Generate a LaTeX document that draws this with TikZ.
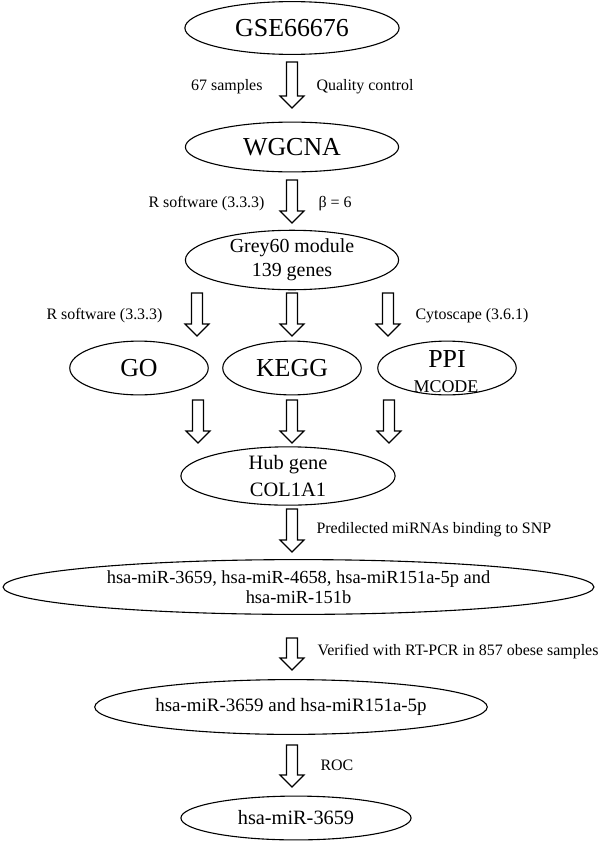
\documentclass[tikz,border=0pt]{standalone}
\usepackage{fontspec}
\setmainfont{Liberation Serif}
\usetikzlibrary{shapes.geometric,calc}

\newcommand{\hollowarrow}[2]{%
\path[harrow] let \p1=(#1), \p2=(#2) in
 (\x1-5.5bp,\y1) -- (\x1+5.5bp,\y1) -- (\x1+5.5bp,\y2+12bp) -- (\x1+12bp,\y2+12bp)
 -- (\x1,\y2) -- (\x1-12bp,\y2+12bp) -- (\x1-5.5bp,\y2+12bp) -- cycle;}

\begin{document}
\begin{tikzpicture}[x=1bp,y=-1bp,
 oval/.style={ellipse,draw,line width=1.1bp,inner sep=0pt,align=center},
 lbl/.style={font=\fontsize{16}{18}\selectfont},
 harrow/.style={draw,line width=1.1bp,line join=miter,fill=white}]
\useasboundingbox (0,0) rectangle (599,843);

\node[oval,minimum width=215,minimum height=53,font=\fontsize{26}{30}\selectfont] (gse) at (292,28) {GSE66676};
\node[oval,minimum width=214,minimum height=50,font=\fontsize{26}{30}\selectfont] (wgcna) at (292,147) {WGCNA};
\node[oval,minimum width=214,minimum height=54,font=\fontsize{20}{24}\selectfont] (grey) at (292,260) {Grey60 module\\139 genes};
\node[oval,minimum width=139,minimum height=54,font=\fontsize{26}{30}\selectfont] (go) at (139,368) {GO};
\node[oval,minimum width=139,minimum height=54,font=\fontsize{26}{30}\selectfont] (kegg) at (292,368) {KEGG};
\node[oval,minimum width=139,minimum height=54] (ppi) at (447,368) {};
\node[anchor=base,font=\fontsize{26}{30}\selectfont] (ppitext) at (447,367) {PPI};
\node[anchor=base,font=\fontsize{18}{20}\selectfont] (mcode) at (446,392) {MCODE};
\node[oval,minimum width=215,minimum height=55,font=\fontsize{20.5}{27}\selectfont] (hub) at (288,476) {Hub gene\\COL1A1};
\node[oval,minimum width=593,minimum height=55,font=\fontsize{18.5}{20}\selectfont] (mirs) at (298.5,587) {hsa-miR-3659, hsa-miR-4658, hsa-miR151a-5p and\\hsa-miR-151b};
\node[oval,minimum width=394,minimum height=55,font=\fontsize{19}{22}\selectfont] (mirtwo) at (291,707) {hsa-miR-3659 and hsa-miR151a-5p};
\node[oval,minimum width=231,minimum height=44,font=\fontsize{20.4}{24}\selectfont] (mirone) at (296,818) {hsa-miR-3659};

% arrow ends
\coordinate (a1) at (292,62);  \coordinate (b1) at (292,108);
\coordinate (a2) at (292,180); \coordinate (b2) at (292,223);
\coordinate (a3) at (197,293); \coordinate (b3) at (197,336);
\coordinate (a4) at (292,293); \coordinate (b4) at (292,336);
\coordinate (a5) at (388,293); \coordinate (b5) at (388,336);
\coordinate (a6) at (198,400); \coordinate (b6) at (198,443);
\coordinate (a7) at (292,400); \coordinate (b7) at (292,443);
\coordinate (a8) at (389,400); \coordinate (b8) at (389,443);
\coordinate (a9) at (292,509); \coordinate (b9) at (292,552);
\coordinate (a10) at (292,638); \coordinate (b10) at (292,670);
\coordinate (a11) at (292,745); \coordinate (b11) at (292,787);
\hollowarrow{a1}{b1}
\hollowarrow{a2}{b2}
\hollowarrow{a3}{b3}
\hollowarrow{a4}{b4}
\hollowarrow{a5}{b5}
\hollowarrow{a6}{b6}
\hollowarrow{a7}{b7}
\hollowarrow{a8}{b8}
\hollowarrow{a9}{b9}
\hollowarrow{a10}{b10}
\hollowarrow{a11}{b11}

\node[lbl,anchor=base east] (samples) at (266,90) {67 samples};
\node[lbl,anchor=base west] (quality) at (313,90) {Quality control};
\node[lbl,anchor=base east] (rsoft) at (268,207) {R software (3.3.3)};
\node[lbl,anchor=base west] (beta) at (315,207) {β = 6};
\node[lbl,anchor=base east] (rsofttwo) at (166,319) {R software (3.3.3)};
\node[lbl,anchor=base west] (cyto) at (412,319) {Cytoscape (3.6.1)};
\node[lbl,anchor=base west] (snp) at (313,533) {Predilected miRNAs binding to SNP};
\node[lbl,anchor=base west] (pcr) at (314,655) {Verified with RT-PCR in 857 obese samples};
\node[lbl,anchor=base west] (roc) at (317,770) {ROC};
\end{tikzpicture}
\end{document}
